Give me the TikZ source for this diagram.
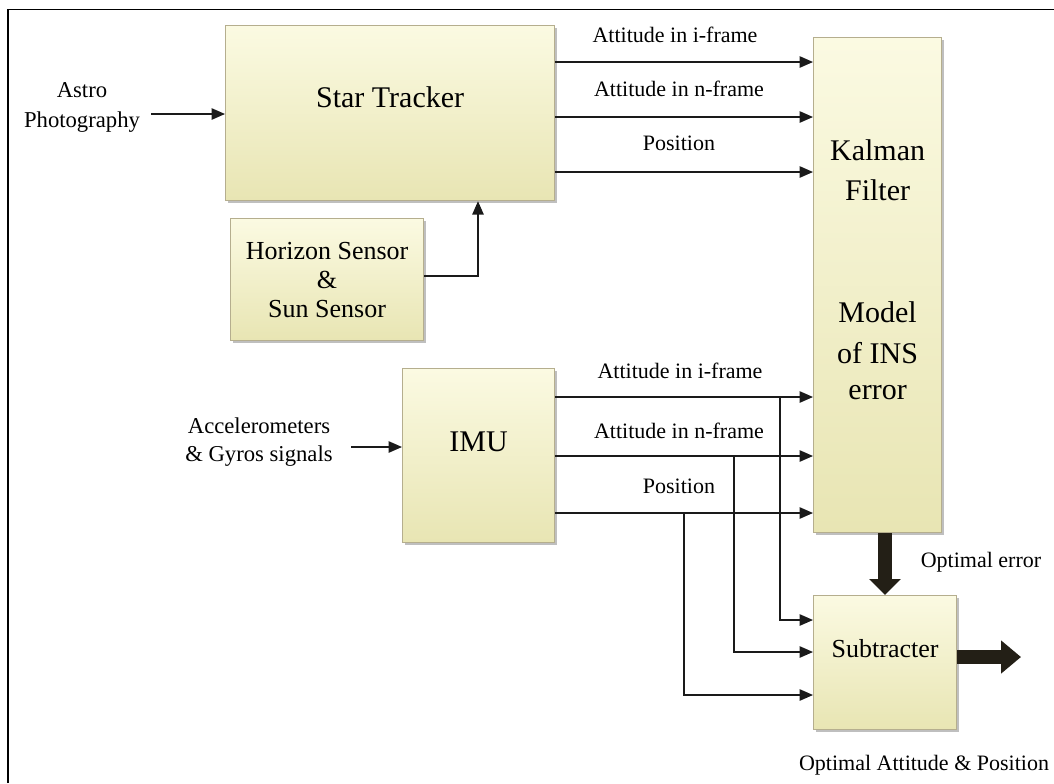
\documentclass[tikz,border=0pt]{standalone}
\usepackage{fontspec}
\setmainfont{Liberation Serif}
\usetikzlibrary{calc,arrows.meta,shadows}
\definecolor{boxlight}{HTML}{FBFAE2}
\definecolor{boxdark}{HTML}{E8E5B3}
\definecolor{boxline}{HTML}{B5AE8E}
\definecolor{fatcol}{HTML}{231F16}
\definecolor{linecol}{HTML}{1A1A1A}
\tikzset{
  blk/.style={draw=boxline, line width=0.9pt, top color=boxlight, bottom color=boxdark,
    drop shadow={shadow xshift=2pt, shadow yshift=-2pt, fill=black, opacity=0.25},
    inner sep=0pt, anchor=north west},
  bigtxt/.style={font=\fontsize{22.5}{27}\selectfont, inner sep=0pt},
  midtxt/.style={font=\fontsize{19.5}{21.8}\selectfont, inner sep=0pt, align=center},
  lbl/.style={font=\fontsize{16.5}{20}\selectfont, inner sep=0pt, align=center},
  arr/.style={draw=linecol, line width=1.1pt, -{Triangle[length=10pt,width=8.5pt]}},
  ln/.style={draw=linecol, line width=1.1pt},
  fat/.style={draw=fatcol, line width=10.5pt, -{Triangle[length=12pt,width=23pt]}},
  fatout/.style={draw=fatcol, line width=11pt, -{Triangle[length=15pt,width=24pt]}},
}
\begin{document}
\begin{tikzpicture}[x=0.75pt,y=-0.75pt]
\useasboundingbox (0,0) rectangle (1054,783);
% frame
\draw[line width=1.2pt] (8,783) -- (8,9.5) -- (1054,9.5);

% boxes
\node[blk, minimum width=246.75pt, minimum height=131.25pt] (st) at (225,25) {};
\node[bigtxt] (sttxt) at ($(st.north)+(0,72)$) {Star Tracker};

\node[blk, minimum width=144.75pt, minimum height=91.5pt] (hs) at (230,218) {};
\node[midtxt] (hstxt) at (hs.center) {Horizon Sensor\\\&\\Sun Sensor};

\node[blk, minimum width=96pt, minimum height=371.25pt] (kf) at (813,37) {};
\node[bigtxt] (k1) at ($(kf.north)+(0,113)$) {Kalman};
\node[bigtxt] (k2) at ($(kf.north)+(0,153)$) {Filter};
\node[bigtxt] (k3) at ($(kf.north)+(0,275)$) {Model};
\node[bigtxt] (k4) at ($(kf.north)+(0,316)$) {of INS};
\node[bigtxt] (k5) at ($(kf.north)+(0,356)$) {error};

\node[blk, minimum width=114pt, minimum height=130.5pt] (imu) at (402,368) {};
\node[bigtxt] (imutxt) at ($(imu.north)+(0,74)$) {IMU};

\node[blk, minimum width=107.25pt, minimum height=100.5pt] (sub) at (813,595) {};
\node[midtxt] (subtxt) at ($(sub.north)+(0,54)$) {Subtracter};

% inputs
\node[lbl, font=\fontsize{17}{22.5}\selectfont] (astro) at (82,107) {Astro\\Photography};
\coordinate (astroend) at (151,114);
\draw[arr] (astroend) -- (st.west |- astroend);

\node[lbl, font=\fontsize{17}{20.5}\selectfont] (acc) at (259,442) {Accelerometers\\\& Gyros signals};
\coordinate (accend) at (351,447);
\draw[arr] (accend) -- (imu.west |- accend);

% horizon -> star tracker
\draw[arr] (hs.east |- 0,276) -| (st.south -| 478,0);

% star tracker outputs
\draw[arr] (st.east |- 0,62) -- (kf.west |- 0,62);
\draw[arr] (st.east |- 0,117) -- (kf.west |- 0,117);
\draw[arr] (st.east |- 0,172) -- (kf.west |- 0,172);
\node[lbl] (l1) at (675,35) {Attitude in i-frame};
\node[lbl] (l2) at (679,89) {Attitude in n-frame};
\node[lbl] (l3) at (679,143) {Position};

% IMU outputs
\draw[arr] (imu.east |- 0,397) -- (kf.west |- 0,397);
\draw[arr] (imu.east |- 0,456) -- (kf.west |- 0,456);
\draw[arr] (imu.east |- 0,513) -- (kf.west |- 0,513);
\node[lbl] (l4) at (680,371) {Attitude in i-frame};
\node[lbl] (l5) at (679,431) {Attitude in n-frame};
\node[lbl] (l6) at (679,486) {Position};

% branches to subtracter
\coordinate (j1) at (780,397);
\coordinate (j2) at (734,456);
\coordinate (j3) at (684,513);
\draw[arr] (j1) |- (sub.west |- 0,620);
\draw[arr] (j2) |- (sub.west |- 0,652);
\draw[arr] (j3) |- (sub.west |- 0,695);

% thick arrows
\draw[fat] (kf.south -| 885,0) -- (sub.north -| 885,0);
\node[lbl] (opterr) at (981,562) {Optimal error};
\coordinate (outend) at (1021,657);
\draw[fatout] (sub.east |- outend) -- (outend);
\node[lbl] (optout) at (924,765) {Optimal Attitude \& Position};
\end{tikzpicture}
\end{document}
